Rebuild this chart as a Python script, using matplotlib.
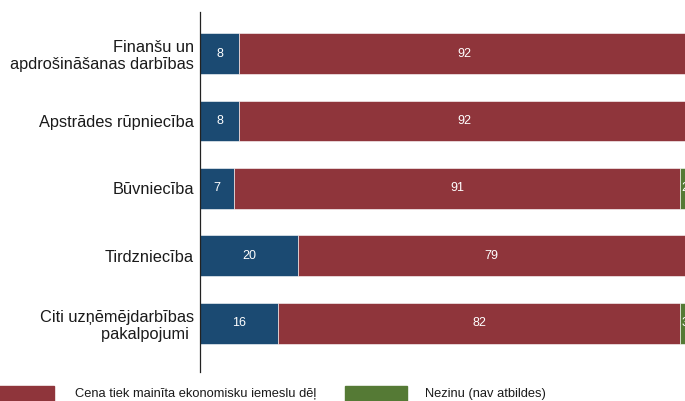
import matplotlib.pyplot as plt
from matplotlib.patches import Rectangle

plt.rcParams['font.family'] = ['Liberation Sans', 'DejaVu Sans']

# data
categories = ['Finanšu un\napdrošināšanas darbības', 'Apstrādes rūpniecība',
              'Būvniecība', 'Tirdzniecība', 'Citi uzņēmējdarbības\npakalpojumi ']
blue_vals = [8, 8, 7, 20, 16]
red_vals = [92, 92, 91, 79, 82]
green_vals = [0, 0, 2, 1, 3]
series_names = ['Cena tiek mainīta ekonomisku iemeslu dēļ', 'Nezinu (nav atbildes)']

blue = '#1b4a72'
red = '#8f353b'
green = '#557a35'

W, H = 685, 401
fig = plt.figure(figsize=(W / 100, H / 100), dpi=100)
# axis runs past the right edge, as in the cropped original
ax = fig.add_axes([200 / W, 1 - 372 / H, 490 / W, 360 / H])

ypos = list(range(len(categories)))
left2 = [b + r for b, r in zip(blue_vals, red_vals)]
bh = 0.607
b1 = ax.barh(ypos, blue_vals, height=bh, color=blue, edgecolor='white', linewidth=0.4)
b2 = ax.barh(ypos, red_vals, left=blue_vals, height=bh, color=red, edgecolor='white', linewidth=0.4)
b3 = ax.barh(ypos, green_vals, left=left2, height=bh, color=green, edgecolor='white', linewidth=0.4)

for bars, vals in ((b1, blue_vals), (b2, red_vals), (b3, green_vals)):
    labels = [str(v) if v > 1 else '' for v in vals]
    ax.bar_label(bars, labels=labels, label_type='center', color='white', fontsize=9)

ax.set_xlim(0, 100)
ax.set_ylim(4.719, -0.615)
ax.set_yticks(ypos)
ax.set_yticklabels(categories, fontsize=11.8, color='#1a1a1a')
ax.tick_params(axis='y', length=0, pad=4.5)
ax.set_xticks([])
for s in ['top', 'right', 'bottom']:
    ax.spines[s].set_visible(False)
ax.spines['left'].set_linewidth(0.9)
ax.spines['left'].set_color('#222222')

# legend (cropped at the bottom of the picture)
sw_y = 1 - 401 / H - 0.01
sw_h = 15 / H + 0.01
fig.patches.append(Rectangle((-8 / W, sw_y), 62 / W, sw_h, transform=fig.transFigure,
                             color=red, clip_on=False))
fig.text(75 / W, 1 - 394 / H, series_names[0], fontsize=9.3, va='center', color='#1a1a1a')
fig.patches.append(Rectangle((345 / W, sw_y), 62 / W, sw_h, transform=fig.transFigure,
                             color=green, clip_on=False))
fig.text(425 / W, 1 - 394 / H, series_names[1], fontsize=9.3, va='center', color='#1a1a1a')

fig.savefig('out.png', dpi=100)
